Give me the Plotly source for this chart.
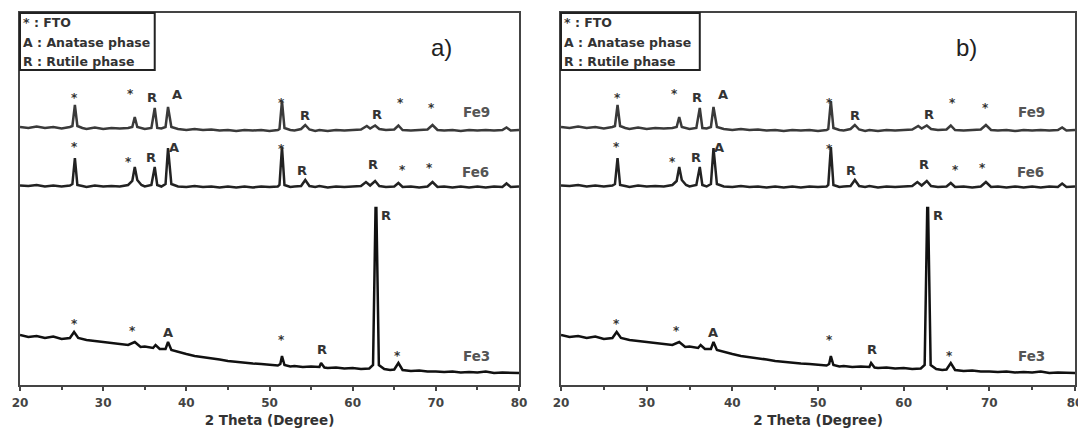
import plotly.graph_objects as go

# ---------------- data (arbitrary intensity units) ----------------
tt_fe9 = [20, 21, 22, 23, 24, 25, 26, 26.3, 26.6, 26.9, 27.5, 28, 29, 30, 31, 32, 33, 33.5, 33.8, 34.1,
          35, 35.8, 36.2, 36.5, 37, 37.5, 37.8, 38.2, 39, 40, 41, 42, 43, 44, 45, 46, 47, 48, 49, 50,
          51, 51.2, 51.5, 51.8, 52.5, 53, 53.8, 54.3, 54.8, 55.5, 56, 57, 58, 59, 60, 61, 61.7, 62.1,
          62.7, 63.2, 64, 65, 65.5, 66, 67, 68, 69, 69.6, 70.2, 71, 72, 73, 74, 75, 76, 77, 78, 78.5, 79, 80]
int_fe9 = [258, 257, 258.5, 257, 258, 256.5, 258, 259, 280, 259, 257, 256, 257.5, 256, 257, 256.5, 257, 258, 268, 258,
           256, 257, 277, 257, 256.5, 258, 278, 258, 256, 255, 256, 255, 255.5, 254.5, 255, 254, 255, 254.5, 255, 254,
           255, 256, 284, 257, 255, 254.5, 256, 260, 255.5, 254, 255, 254, 255, 254.5, 255, 255.5, 259, 256.5,
           259.5, 256, 255, 255.5, 259.5, 255, 254.5, 255, 255.5, 260, 255, 254.5, 255, 254, 255, 254.5, 255, 254.5, 255, 257.5, 254.5, 255]

tt_fe6 = [20, 21, 22, 23, 24, 25, 26, 26.3, 26.6, 26.9, 27.5, 28, 29, 30, 31, 32, 33, 33.5, 33.8, 34.1, 34.6,
          35, 35.8, 36.2, 36.5, 37, 37.5, 37.8, 38.2, 39, 40, 41, 42, 43, 44, 45, 46, 47, 48, 49, 50,
          51, 51.2, 51.5, 51.8, 52.5, 53, 53.8, 54.3, 54.8, 55.5, 56, 57, 58, 59, 60, 61, 61.6, 62.1,
          62.7, 63.2, 64, 65, 65.5, 66, 67, 68, 69, 69.6, 70.2, 71, 72, 73, 74, 75, 76, 77, 78, 78.5, 79, 80]
int_fe6 = [199.5, 199, 200, 198.5, 199.5, 198.5, 199.5, 201, 227, 200, 199, 198, 199.5, 198.5, 199, 198.5, 200, 204, 218, 205, 200,
           198.5, 200, 218, 200, 198.5, 201, 237, 201, 198.5, 198, 199, 198, 198.5, 197.5, 198.5, 197.5, 198.5, 197.5, 198.5, 198,
           198.5, 200, 238, 200, 198, 198.5, 199, 205, 199, 198, 199, 197.5, 198.5, 198, 198.5, 199, 203, 199.5,
           204, 199, 198, 198.5, 202, 198, 198.5, 197.5, 198.5, 203, 198, 198.5, 197.5, 198.5, 197.5, 198.5, 197.5, 198.5, 198, 201.5, 198, 198.5]

tt_fe3 = [20, 21, 22, 23, 24, 25, 26, 26.5, 27, 28, 29, 30, 31, 32, 33, 33.8, 34.5, 35, 36, 36.3, 36.8,
          37.5, 37.8, 38.2, 39, 40, 41, 42, 43, 44, 45, 46, 47, 48, 49, 50, 51, 51.3, 51.5, 51.8, 52.5,
          53, 54, 55, 56, 56.2, 56.6, 57, 58, 59, 60, 61, 62, 62.45, 62.55, 62.75, 62.85, 63.05, 63.15,
          63.8, 64.5, 65, 65.5, 66, 67, 68, 69, 70, 71, 72, 73, 74, 75, 76, 77, 78, 79, 80]
int_fe3 = [50, 48, 49, 47, 48.5, 46, 47, 53, 47, 45, 44, 43, 42.5, 41, 40, 43, 38, 38.5, 37, 40, 36,
           36, 43, 35, 33, 31, 29, 28, 27, 25.5, 24, 23, 22, 21.5, 21, 20, 19.5, 21, 29, 20, 18.5,
           19, 18, 18.5, 18, 22, 17.5, 17, 17.5, 16.5, 17, 16, 16.5, 20, 90, 177, 177, 90, 20,
           16, 15, 15.5, 22, 15, 14, 14.5, 13.5, 13.5, 13, 13.5, 12.5, 13, 12.5, 13.5, 12, 12.5, 12, 12]

series_names = ["Fe9", "Fe6", "Fe3"]
series_colors = ["#3a3a3a", "#222222", "#111111"]

legend_lines = ["* : FTO", "A : Anatase phase", "R : Rutile phase"]
panel_labels = ["a)", "b)"]

# peak markers: (text, 2theta, intensity)
peak_labels = [
    ("*", 26.6, 290), ("*", 33.3, 294), ("R", 35.9, 288), ("A", 38.9, 291),
    ("*", 51.4, 285), ("R", 54.3, 270), ("R", 62.9, 271), ("*", 65.7, 285), ("*", 69.5, 280),
    ("*", 26.5, 241), ("*", 33.0, 226), ("R", 35.7, 228), ("A", 38.5, 238),
    ("*", 51.4, 239), ("R", 53.9, 215), ("R", 62.4, 221), ("*", 66.0, 218), ("*", 69.2, 220),
    ("*", 26.5, 64), ("*", 33.5, 57), ("A", 37.8, 53), ("*", 51.4, 48),
    ("R", 56.3, 36), ("R", 64.0, 170), ("*", 65.4, 32),
]
series_label_pos = [(74.9, 273), (74.8, 213), (74.9, 29)]

x_ticks = [20, 30, 40, 50, 60, 70, 80]
x_title = "2 Theta (Degree)"

# ---------------- figure ----------------
# the page body adds an 8 px offset; the figure is sized/placed to compensate
OFF = 8
W, H = 1086 - OFF, 431 - OFF
fig = go.Figure()

panels = [("x", "y", 20, 519), ("x2", "y2", 561, 1075)]
for (xr, yr, _, _) in panels:
    for tt, it, name, col in zip([tt_fe9, tt_fe6, tt_fe3], [int_fe9, int_fe6, int_fe3], series_names, series_colors):
        fig.add_trace(go.Scatter(x=tt, y=it, mode="lines", name=name, xaxis=xr, yaxis=yr,
                                 line=dict(color=col, width=2.5), showlegend=False))

ydom = [(H - (385 - OFF)) / H, (H - (13 - OFF)) / H]
axis_common = dict(showline=True, linewidth=2, linecolor="#444", mirror=True, showgrid=False,
                   zeroline=False, automargin=False)
xaxis_common = dict(axis_common, range=[20, 80], tickvals=x_ticks, ticks="outside", ticklen=4, tickwidth=1.5,
                    tickcolor="#444", ticklabelstandoff=2,
                    minor=dict(dtick=5, ticks="outside", ticklen=3, tickwidth=1.5, tickcolor="#444"),
                    tickfont=dict(family="DejaVu Sans", size=12, color="#444", weight="bold"),
                    title=dict(text=x_title, standoff=6,
                               font=dict(family="DejaVu Sans", size=13.5, color="#333", weight="bold")))
yaxis_common = dict(axis_common, range=[0, 372], showticklabels=False, ticks="")

fig.update_layout(
    width=W, height=H, margin=dict(l=0, r=0, t=0, b=0, autoexpand=False),
    plot_bgcolor="white", paper_bgcolor="white",
    xaxis=dict(xaxis_common, domain=[(20 - OFF) / W, (519 - OFF) / W], anchor="y"),
    yaxis=dict(yaxis_common, domain=ydom, anchor="x"),
    xaxis2=dict(xaxis_common, domain=[(561 - OFF) / W, (1075 - OFF) / W], anchor="y2"),
    yaxis2=dict(yaxis_common, domain=ydom, anchor="x2"),
)

annotations = []
shapes = []
for i, (xr, yr, px0, px1) in enumerate(panels):
    xd = xr + " domain"
    yd = yr + " domain"
    # legend box
    shapes.append(dict(type="rect", xref=xd, yref=yd, x0=0, x1=0.27, y0=1 - 57 / 372, y1=1,
                       line=dict(color="#222", width=2)))
    for k, txt in enumerate(legend_lines):
        annotations.append(dict(xref=xd, yref=yd, x=0.002, y=1 - (10 + 19 * k) / 372, text=txt,
                                showarrow=False, xanchor="left", yanchor="middle",
                                font=dict(family="DejaVu Sans", size=12.5, color="#333", weight="bold")))
    # panel label
    annotations.append(dict(xref=xd, yref=yd, x=0.8437 if i == 0 else 0.788, y=0.908, text=panel_labels[i],
                            showarrow=False, xanchor="center", yanchor="middle",
                            font=dict(family="Liberation Sans", size=24, color="#222")))
    # peak labels
    for txt, xx, yy in peak_labels:
        if txt == "*":
            annotations.append(dict(xref=xr, yref=yr, x=xx, y=yy - 3, text=txt, showarrow=False,
                                    xanchor="center", yanchor="middle",
                                    font=dict(family="DejaVu Sans", size=12, color="#333", weight="bold")))
        else:
            annotations.append(dict(xref=xr, yref=yr, x=xx, y=yy, text=txt, showarrow=False,
                                    xanchor="center", yanchor="middle",
                                    font=dict(family="DejaVu Sans", size=13, color="#333", weight="bold")))
    for name, (xx, yy) in zip(series_names, series_label_pos):
        annotations.append(dict(xref=xr, yref=yr, x=xx, y=yy, text=name, showarrow=False,
                                xanchor="center", yanchor="middle",
                                font=dict(family="DejaVu Sans", size=13.5, color="#555", weight="bold")))

fig.update_layout(annotations=annotations, shapes=shapes)
fig.write_html("out.html")
